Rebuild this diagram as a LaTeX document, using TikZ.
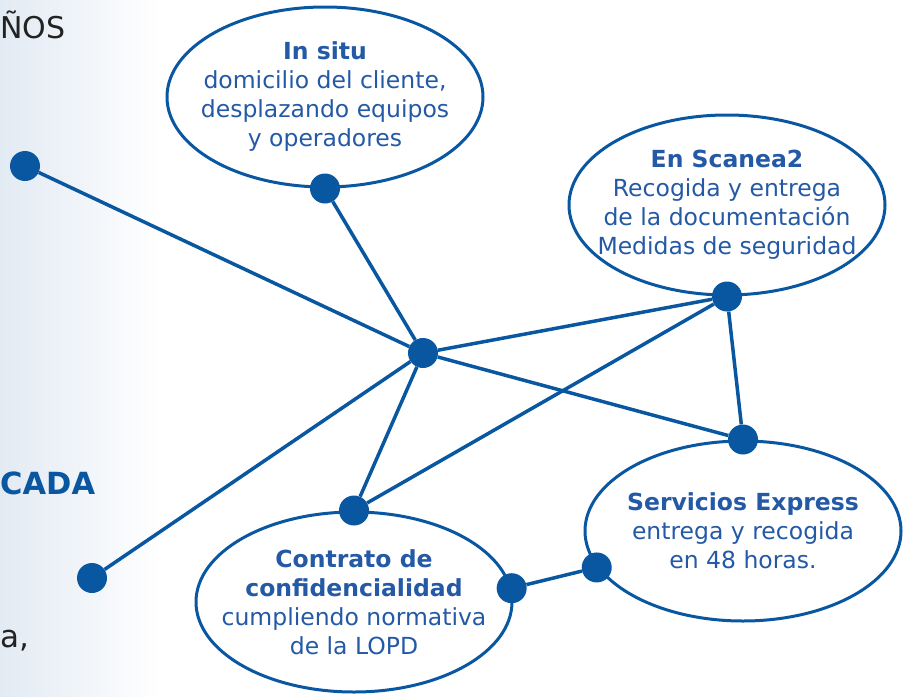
\documentclass[tikz,border=0pt]{standalone}
\usepackage{fontspec}
\setmainfont{DejaVu Sans}
\usetikzlibrary{shapes.geometric}
\definecolor{scanblue}{HTML}{0A57A1}
\definecolor{textblue}{HTML}{2459A6}
\definecolor{slidegray}{HTML}{222222}
\definecolor{slideshade}{HTML}{E2EAF3}

\begin{document}
\begin{tikzpicture}[x=1pt,y=-1pt,
  bubble/.style={ellipse,draw=scanblue,line width=3pt,fill=white,minimum width=316pt,minimum height=180pt,inner xsep=-40pt,inner ysep=-30pt,align=center,text=textblue,font=\fontsize{23.5}{29}\selectfont},
  joint/.style={circle,fill=scanblue,minimum size=30pt,inner sep=0pt},
  link/.style={draw=scanblue,line width=3.5pt},
  slidetext/.style={anchor=base west,inner sep=0pt}]

\useasboundingbox (0,0) rectangle (910,696);
\shade [left color=slideshade,right color=white] (0,0) rectangle (160,696);

% bits of the slide text on the left
\node [slidetext,text=slidegray,font=\fontsize{30}{36}\selectfont] (titletop) at (0,38) {ÑOS};
\node [slidetext,text=scanblue,font=\fontsize{30.5}{36}\selectfont\bfseries] (titlemid) at (0,494) {CADA};
\node [slidetext,text=slidegray,font=\fontsize{31}{36}\selectfont] (titlelow) at (0,647) {a,};

% the four bubbles
\node [bubble] (insitu) at (325,97) {\textbf{In situ}\\domicilio del cliente,\\desplazando equipos\\y operadores};
\node [bubble] (scanea) at (727,205) {\textbf{En Scanea2}\\Recogida y entrega\\de la documentación\\Medidas de seguridad};
\node [bubble] (express) at (743,531) {\textbf{Servicios Express}\\entrega y recogida\\en 48 horas.};
\node [bubble] (contrato) at (354,602) {\textbf{Contrato de}\\\textbf{confidencialidad}\\cumpliendo normativa\\de la LOPD};

% joints
\node [joint] (hub) at (423,353) {};
\node [joint] (leftup) at (25,166) {};
\node [joint] (leftdown) at (92,578) {};
\node [joint] (insitudot) at (insitu.south) {};
\node [joint] (scaneadot) at (scanea.south) {};
\node [joint] (expressdot) at (express.north) {};
\node [joint] (expressleft) at (express.194) {};
\node [joint] (contratodot) at (contrato.north) {};
\node [joint] (contratoright) at (contrato.5) {};

\draw [link] (leftup) -- (hub);
\draw [link] (insitudot) -- (hub);
\draw [link] (hub) -- (scaneadot);
\draw [link] (hub) -- (expressdot);
\draw [link] (hub) -- (contratodot);
\draw [link] (hub) -- (leftdown);
\draw [link] (scaneadot) -- (contratodot);
\draw [link] (scaneadot) -- (expressdot);
\draw [link] (contratoright) -- (expressleft);

\end{tikzpicture}
\end{document}
